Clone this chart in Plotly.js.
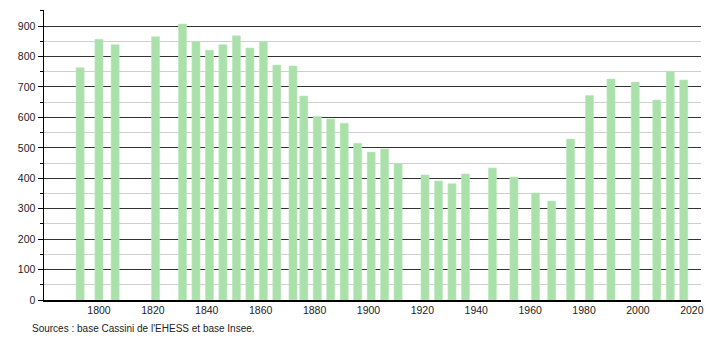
<!DOCTYPE html>
<html>
<head>
<meta charset="utf-8">
<script src="https://cdn.plot.ly/plotly-3.0.1.min.js"></script>
<style>html,body{margin:0;padding:0;background:#fff;}#chart{width:710px;height:340px;}</style>
</head>
<body>
<div id="chart"></div>
<script>
const years = [1793,1800,1806,1821,1831,1836,1841,1846,1851,1856,1861,1866,1872,1876,1881,1886,1891,1896,1901,1906,1911,1921,1926,1931,1936,1946,1954,1962,1968,1975,1982,1990,1999,2007,2012,2017];
const population = [763,857,839,865,907,850,821,839,868,828,850,772,769,670,604,595,581,515,486,496,449,411,391,382,414,434,404,352,325,529,672,726,716,657,750,723];
const xTicks = [1800,1820,1840,1860,1880,1900,1920,1940,1960,1980,2000,2020];
const yTicks = [0,100,200,300,400,500,600,700,800,900];
const sourceText = "Sources : base Cassini de l'EHESS et base Insee.";

const trace = {
  type: 'bar',
  x: years,
  y: population,
  width: 3,
  marker: {color: 'rgb(170,224,170)', line: {color: 'rgba(190,232,190,0.6)', width: 1}},
  hoverinfo: 'x+y'
};

const layout = {
  width: 710, height: 340,
  margin: {l: 44, r: 9, t: 10, b: 40},
  paper_bgcolor: '#fff', plot_bgcolor: '#fff',
  showlegend: false,
  font: {family: 'Liberation Sans, Arial, sans-serif', size: 10.5, color: '#222'},
  xaxis: {
    range: [1779.6, 2023.4],
    tickvals: xTicks,
    ticktext: xTicks.map(String),
    showgrid: false, zeroline: false,
    showline: true, linecolor: '#000', linewidth: 1.5,
    ticks: '', fixedrange: true
  },
  yaxis: {
    range: [0, 953],
    tickvals: yTicks,
    showgrid: true, gridcolor: '#333', gridwidth: 1,
    zeroline: false,
    showline: true, linecolor: '#000', linewidth: 1.5,
    ticks: 'outside', ticklen: 5, tickcolor: '#000', tickwidth: 1,
    minor: {dtick: 50, showgrid: true, gridcolor: '#cfcfcf', gridwidth: 1, ticks: 'outside', ticklen: 3, tickcolor: '#000'},
    fixedrange: true
  },
  annotations: [{
    text: sourceText, xref: 'paper', yref: 'paper',
    x: -0.022, y: -0.074, xanchor: 'left', yanchor: 'top',
    showarrow: false, font: {size: 10, color: '#222'}
  }]
};

Plotly.newPlot('chart', [trace], layout, {displayModeBar: false, staticPlot: true});
</script>
</body>
</html>
